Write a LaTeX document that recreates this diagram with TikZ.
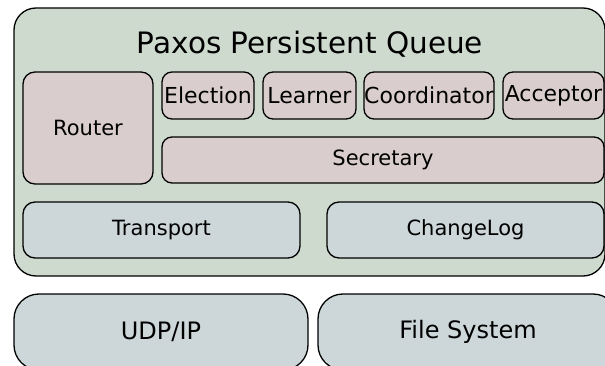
\documentclass[tikz,border=0pt]{standalone}
\usepackage{fontspec}
\setmainfont{DejaVu Sans}
\definecolor{shellfill}{HTML}{CEDACE}
\definecolor{rolefill}{HTML}{DACDCD}
\definecolor{basefill}{HTML}{CDD7DA}
\tikzset{
  box/.style={draw=black, line width=1.3pt, inner sep=0pt, font=\fontsize{22}{25}\selectfont},
  role/.style={box, fill=rolefill, rounded corners=10pt},
  base/.style={box, fill=basefill, rounded corners=12pt, font=\fontsize{21}{24}\selectfont},
  ground/.style={box, fill=basefill, rounded corners=25pt, font=\fontsize{24}{28}\selectfont},
}
\begin{document}
\begin{tikzpicture}[x=1pt,y=-1pt]
\useasboundingbox (0,0) rectangle (605,366);
\clip (0,0) rectangle (605,366);
% outer component
\node[box, fill=shellfill, rounded corners=22pt, minimum width=591pt, minimum height=268pt] (pq) at (309.5,142) {};
\node[font=\fontsize{29.5}{33}\selectfont] (title) at (310,44) {Paxos Persistent Queue};
% protocol roles
\node[role, minimum width=130pt, minimum height=112pt, rounded corners=12pt, font=\fontsize{21}{24}\selectfont] (router) at (88,128) {Router};
\node[role, minimum width=92pt, minimum height=47pt] (election) at (208,95.5) {Election};
\node[role, minimum width=93pt, minimum height=47pt] (learner) at (309.5,95.5) {Learner};
\node[role, minimum width=130pt, minimum height=47pt] (coord) at (429,95.5) {Coordinator};
\node[role, minimum width=101pt, minimum height=47pt] (acceptor) at (553.5,95.5) {Acceptor};
\node[role, minimum width=442pt, minimum height=46pt, font=\fontsize{21}{24}\selectfont] (secretary) at (383,160) {Secretary};
% lower services
\node[base, minimum width=277pt, minimum height=56pt] (transport) at (161.5,230) {Transport};
\node[base, minimum width=277pt, minimum height=56pt] (changelog) at (465.5,230) {ChangeLog};
% platform
\node[ground, minimum width=294pt, minimum height=76pt] (udp) at (161,332) {UDP/IP};
\node[ground, minimum width=300pt, minimum height=76pt] (fs) at (468,332) {File System};
\end{tikzpicture}
\end{document}
